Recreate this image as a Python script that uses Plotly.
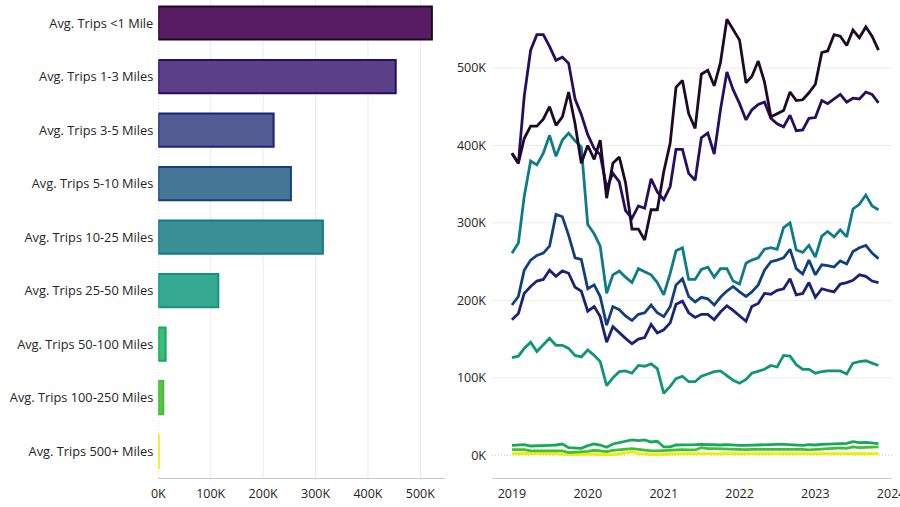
import pandas as pd
import plotly.graph_objects as go

categories = ["Avg. Trips <1 Mile", "Avg. Trips 1-3 Miles", "Avg. Trips 3-5 Miles",
              "Avg. Trips 5-10 Miles", "Avg. Trips 10-25 Miles", "Avg. Trips 25-50 Miles",
              "Avg. Trips 50-100 Miles", "Avg. Trips 100-250 Miles", "Avg. Trips 500+ Miles"]
bar_values = [522000, 453000, 220000, 253000, 314000, 114500, 14000, 9600, 1000]

fill_colors = ["#571c63", "#5b3f87", "#535d93", "#477797", "#3a9096",
               "#36a993", "#3dbb78", "#5ac348", "#f2ec1e"]
line_colors = ["#1e0a26", "#241060", "#1a2277", "#12407f", "#0d7b88",
               "#129479", "#17a95a", "#3fbf35", "#eeee00"]

months = pd.date_range("2019-01-01", periods=59, freq="MS")

s_lt1 = [390, 377, 409, 425, 425, 434, 450, 426, 437, 469,
         428, 377, 400, 382, 407, 332, 377, 385, 352, 292,
         292, 278, 317, 317, 366, 403, 475, 484, 441, 422,
         492, 497, 477, 507, 563, 550, 536, 481, 489, 509,
         482, 437, 441, 445, 469, 458, 459, 468, 479, 520,
         522, 543, 541, 529, 549, 539, 553, 541, 523]
s_1_3 = [390, 377, 463, 523, 543, 543, 528, 510, 514, 506,
         460, 440, 414, 396, 388, 345, 364, 353, 316, 306,
         322, 319, 357, 340, 330, 347, 395, 395, 364, 355,
         410, 416, 389, 446, 495, 472, 454, 433, 446, 453,
         456, 435, 428, 424, 439, 419, 420, 435, 436, 458,
         454, 460, 466, 456, 461, 460, 469, 466, 455]
s_3_5 = [175, 183, 209, 218, 225, 227, 239, 231, 238, 235,
         217, 212, 186, 192, 179, 146, 166, 158, 151, 144,
         150, 152, 169, 158, 162, 171, 195, 199, 184, 178,
         182, 182, 175, 185, 193, 187, 180, 173, 192, 196,
         209, 208, 213, 215, 228, 207, 209, 223, 204, 215,
         213, 211, 221, 223, 226, 233, 231, 225, 223]
s_5_10 = [194, 205, 239, 252, 258, 261, 270, 311, 308, 284,
          255, 253, 215, 220, 205, 168, 192, 188, 180, 174,
          182, 184, 194, 184, 179, 192, 220, 228, 205, 198,
          204, 202, 194, 204, 212, 218, 211, 205, 211, 220,
          239, 250, 252, 255, 266, 241, 234, 252, 233, 246,
          245, 243, 251, 247, 263, 268, 271, 261, 254]
s_10_25 = [261, 274, 334, 380, 375, 390, 413, 386, 407, 416,
           406, 398, 298, 286, 270, 209, 233, 238, 230, 223,
           241, 237, 233, 223, 207, 235, 264, 268, 227, 227,
           240, 243, 230, 241, 241, 225, 221, 248, 252, 255,
           266, 268, 266, 294, 300, 265, 262, 271, 256, 283,
           289, 282, 291, 282, 318, 324, 336, 322, 317]
s_25_50 = [126, 128, 138, 146, 134, 142, 151, 142, 142, 138,
           129, 127, 136, 129, 121, 90, 100, 108, 109, 106,
           116, 115, 118, 112, 80, 89, 99, 102, 95, 95,
           102, 105, 108, 109, 103, 97, 93, 98, 106, 109,
           111, 116, 114, 129, 128, 117, 111, 111, 106, 108,
           109, 109, 109, 105, 119, 121, 122, 119, 116]
s_50_100 = [12.9, 13.8, 13.8, 12.0, 12.0, 12.5, 12.9, 13.3, 14.6, 9.9,
            9.0, 9.0, 12.5, 14.6, 13.3, 10.3, 14.6, 16.4, 18.5, 19.8,
            18.9, 19.8, 17.2, 18.1, 10.8, 10.8, 13.3, 13.3, 12.9, 13.8,
            14.2, 13.8, 13.8, 13.3, 13.8, 12.9, 12.9, 12.9, 13.3, 13.3,
            13.3, 14.2, 14.2, 14.2, 13.8, 13.3, 12.9, 13.8, 13.3, 14.2,
            14.6, 15.1, 15.1, 15.5, 17.7, 16.4, 16.8, 16.4, 15.1]
s_100_250 = [7.3, 7.3, 7.3, 5.6, 5.6, 6.0, 6.5, 6.5, 5.6, 3.4,
             3.8, 4.3, 5.2, 6.5, 5.2, 4.7, 6.5, 7.3, 7.7, 8.6,
             7.7, 6.5, 5.6, 5.6, 6.0, 6.5, 7.3, 7.3, 6.9, 6.9,
             9.9, 8.6, 8.6, 8.2, 8.2, 7.7, 7.7, 7.3, 7.7, 7.7,
             7.7, 8.2, 8.2, 8.2, 7.7, 7.3, 7.7, 6.9, 7.3, 8.6,
             8.6, 9.0, 9.5, 9.0, 10.8, 9.9, 10.3, 10.3, 10.8]
s_500p = [2.2, 2.6, 2.6, 2.2, 2.2, 2.6, 2.6, 2.2, 1.3, 0.9,
          0.9, 1.3, 1.7, 1.3, 0.9, 0.4, 0.9, 1.7, 2.6, 4.3,
          2.2, 1.3, 0.9, 0.9, 1.3, 1.3, 1.7, 1.7, 2.2, 2.2,
          2.2, 2.4, 2.2, 2.2, 2.4, 2.2, 2.2, 2.0, 2.2, 2.2,
          2.2, 2.4, 2.2, 2.2, 2.2, 2.0, 2.2, 2.2, 2.4, 2.2,
          2.2, 2.4, 2.2, 2.6, 2.4, 2.2, 2.4, 2.2, 2.2]
series = [s_lt1, s_1_3, s_3_5, s_5_10, s_10_25, s_25_50, s_50_100, s_100_250, s_500p]

bar_ticks = [0, 100000, 200000, 300000, 400000, 500000]
bar_ticktext = ["0K", "100K", "200K", "300K", "400K", "500K"]
line_ticks = [0, 100000, 200000, 300000, 400000, 500000]
line_ticktext = ["0K", "100K", "200K", "300K", "400K", "500K"]

FONT = "Segoe UI, Open Sans, sans-serif"
fig = go.Figure()

fig.add_trace(go.Bar(
    x=bar_values, y=categories, orientation="h", width=0.62,
    marker=dict(color=fill_colors, line=dict(color=line_colors, width=2)),
    xaxis="x", yaxis="y", showlegend=False, hoverinfo="skip"))

for name, vals, col in reversed(list(zip(categories, series, line_colors))):
    fig.add_trace(go.Scatter(
        x=months, y=[v * 1000 for v in vals], mode="lines", name=name,
        line=dict(color=col, width=2.8), xaxis="x2", yaxis="y2",
        showlegend=False, hoverinfo="skip"))

grid_col = "#ebebeb"
shapes = []
for v in bar_ticks:
    shapes.append(dict(type="line", xref="x", yref="y domain", x0=v, x1=v, y0=0, y1=1,
                       line=dict(color="#c8c8c8" if v == 0 else grid_col, width=1,
                                 dash="1px,2px" if v == 0 else "solid"), layer="below"))
for v in line_ticks:
    shapes.append(dict(type="line", xref="x2 domain", yref="y2", x0=0, x1=1, y0=v, y1=v,
                       line=dict(color="#c8c8c8" if v == 0 else grid_col, width=1,
                                 dash="1px,2px" if v == 0 else "solid"), layer="below"))

fig.update_layout(
    width=900, height=507, margin=dict(l=0, r=0, t=0, b=29),
    paper_bgcolor="white", plot_bgcolor="white",
    font=dict(family=FONT, size=12.8, color="#252423"),
    shapes=shapes, bargap=0.38,
    xaxis=dict(domain=[158.3 / 900, 445 / 900], range=[0, 547000], anchor="y",
               tickvals=bar_ticks, ticktext=bar_ticktext, showgrid=False, zeroline=False,
               showline=True, linecolor="#c8c8c8", linewidth=1, ticks="", automargin=False,
               ticklabelstandoff=4, tickfont=dict(size=12.5, color="#252423")),
    yaxis=dict(domain=[0, 1], type="category", categoryorder="array",
               categoryarray=categories, range=[8.5, -0.43], anchor="x",
               showgrid=False, zeroline=False, showline=False, ticks="", automargin=False,
               ticklabelstandoff=4, tickfont=dict(size=12.8, color="#252423")),
    xaxis2=dict(domain=[492 / 900, 892 / 900], range=["2018-09-27", "2024-01-05"],
                anchor="y2", type="date", dtick="M12", tick0="2019-01-01", tickformat="%Y",
                showgrid=False, zeroline=False, showline=True, linecolor="#c8c8c8",
                linewidth=1, ticks="", automargin=False, ticklabeloverflow="allow",
                ticklabelstandoff=4, tickfont=dict(size=12.5, color="#252423")),
    yaxis2=dict(domain=[0, 1], range=[-29300, 587800], anchor="x2",
                tickvals=line_ticks, ticktext=line_ticktext, showgrid=False,
                zeroline=False, showline=False, ticks="", ticklabelstandoff=5,
                automargin=False, tickfont=dict(size=12.5, color="#252423")),
)

fig.write_html("out.html")
